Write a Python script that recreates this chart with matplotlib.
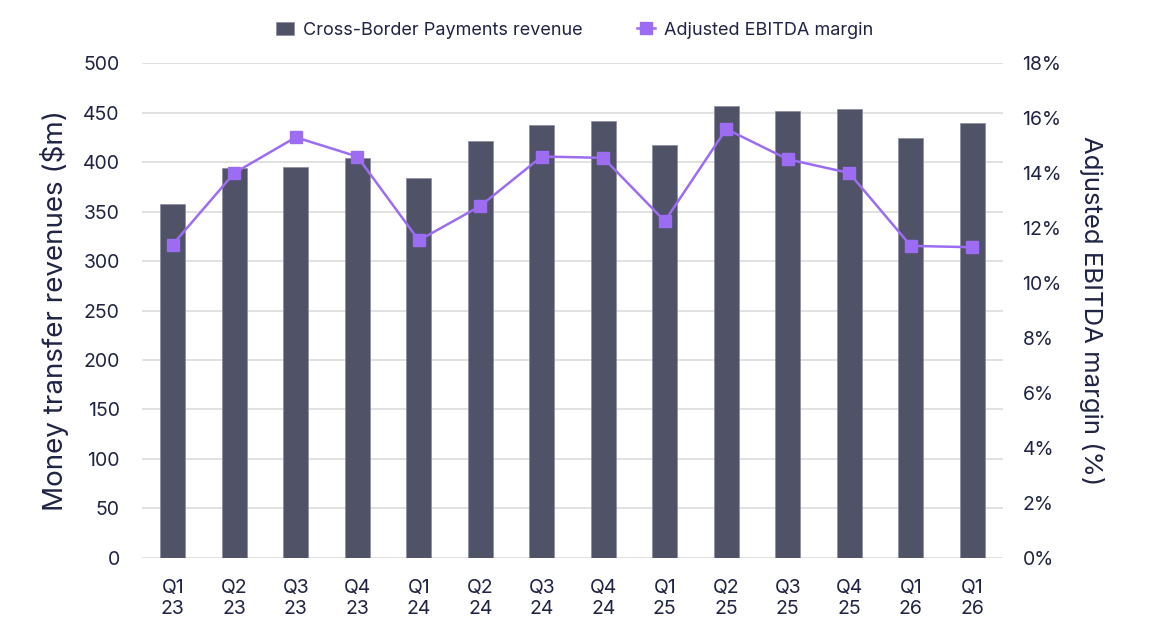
import matplotlib
matplotlib.use("Agg")
import matplotlib.pyplot as plt
from matplotlib.ticker import FuncFormatter

plt.rcParams['font.family'] = ['Inter', 'DejaVu Sans']

# quarters and values
quarters = ["Q1\n23", "Q2\n23", "Q3\n23", "Q4\n23", "Q1\n24", "Q2\n24", "Q3\n24",
            "Q4\n24", "Q1\n25", "Q2\n25", "Q3\n25", "Q4\n25", "Q1\n26", "Q1\n26"]
revenue = [358, 394, 395, 404, 384, 421, 437, 441, 417, 457, 452, 454, 424, 439]
margin = [11.4, 14.0, 15.3, 14.6, 11.55, 12.8, 14.6, 14.55, 12.25, 15.6, 14.5, 14.0, 11.35, 11.3]

bar_col = "#505268"
line_col = "#9c6cf2"
txt_col = "#1f2444"

fig = plt.figure(figsize=(11.5, 6.41), dpi=100)
ax = fig.add_axes([0.1235, 0.1295, 0.7487, 0.7722])
x = range(len(quarters))

ax.bar(x, revenue, width=0.4, color=bar_col, edgecolor="#8a8ca0", linewidth=0.5,
       zorder=2, label="Cross-Border Payments revenue")
ax.set_ylim(0, 500)
ax.set_yticks(range(0, 501, 50))
ax.set_xlim(-0.5, len(quarters) - 0.5)
ax.set_xticks(list(x))
ax.set_xticklabels(quarters)
ax.grid(axis="y", color="#dcdcdc", linewidth=1.2, zorder=0)
ax.set_axisbelow(True)
for s in ax.spines.values():
    s.set_visible(False)
ax.tick_params(length=0, labelsize=14, colors=txt_col, pad=16)
ax.tick_params(axis="x", pad=15)
ax.set_ylabel("Money transfer revenues ($m)", fontsize=20, color=txt_col, labelpad=10)

ax2 = ax.twinx()
ax2.plot(x, margin, color=line_col, marker="s", markersize=9, linewidth=1.8,
         label="Adjusted EBITDA margin", zorder=3)
ax2.set_ylim(0, 18)
ax2.set_yticks(range(0, 19, 2))
ax2.yaxis.set_major_formatter(FuncFormatter(lambda v, p: f"{v:.0f}%"))
for s in ax2.spines.values():
    s.set_visible(False)
ax2.tick_params(length=0, labelsize=14, colors=txt_col, pad=14)
ax2.set_ylabel("Adjusted EBITDA margin (%)", fontsize=18.5, color=txt_col,
               rotation=270, labelpad=30)

h1, l1 = ax.get_legend_handles_labels()
h2, l2 = ax2.get_legend_handles_labels()
fig.legend(h1 + h2, l1 + l2, loc="center", bbox_to_anchor=(0.5, 0.953), ncol=2,
           frameon=False, fontsize=13, labelcolor=txt_col, handlelength=1.0,
           handletextpad=0.5, columnspacing=3.0)

fig.savefig("out.png", dpi=100)
